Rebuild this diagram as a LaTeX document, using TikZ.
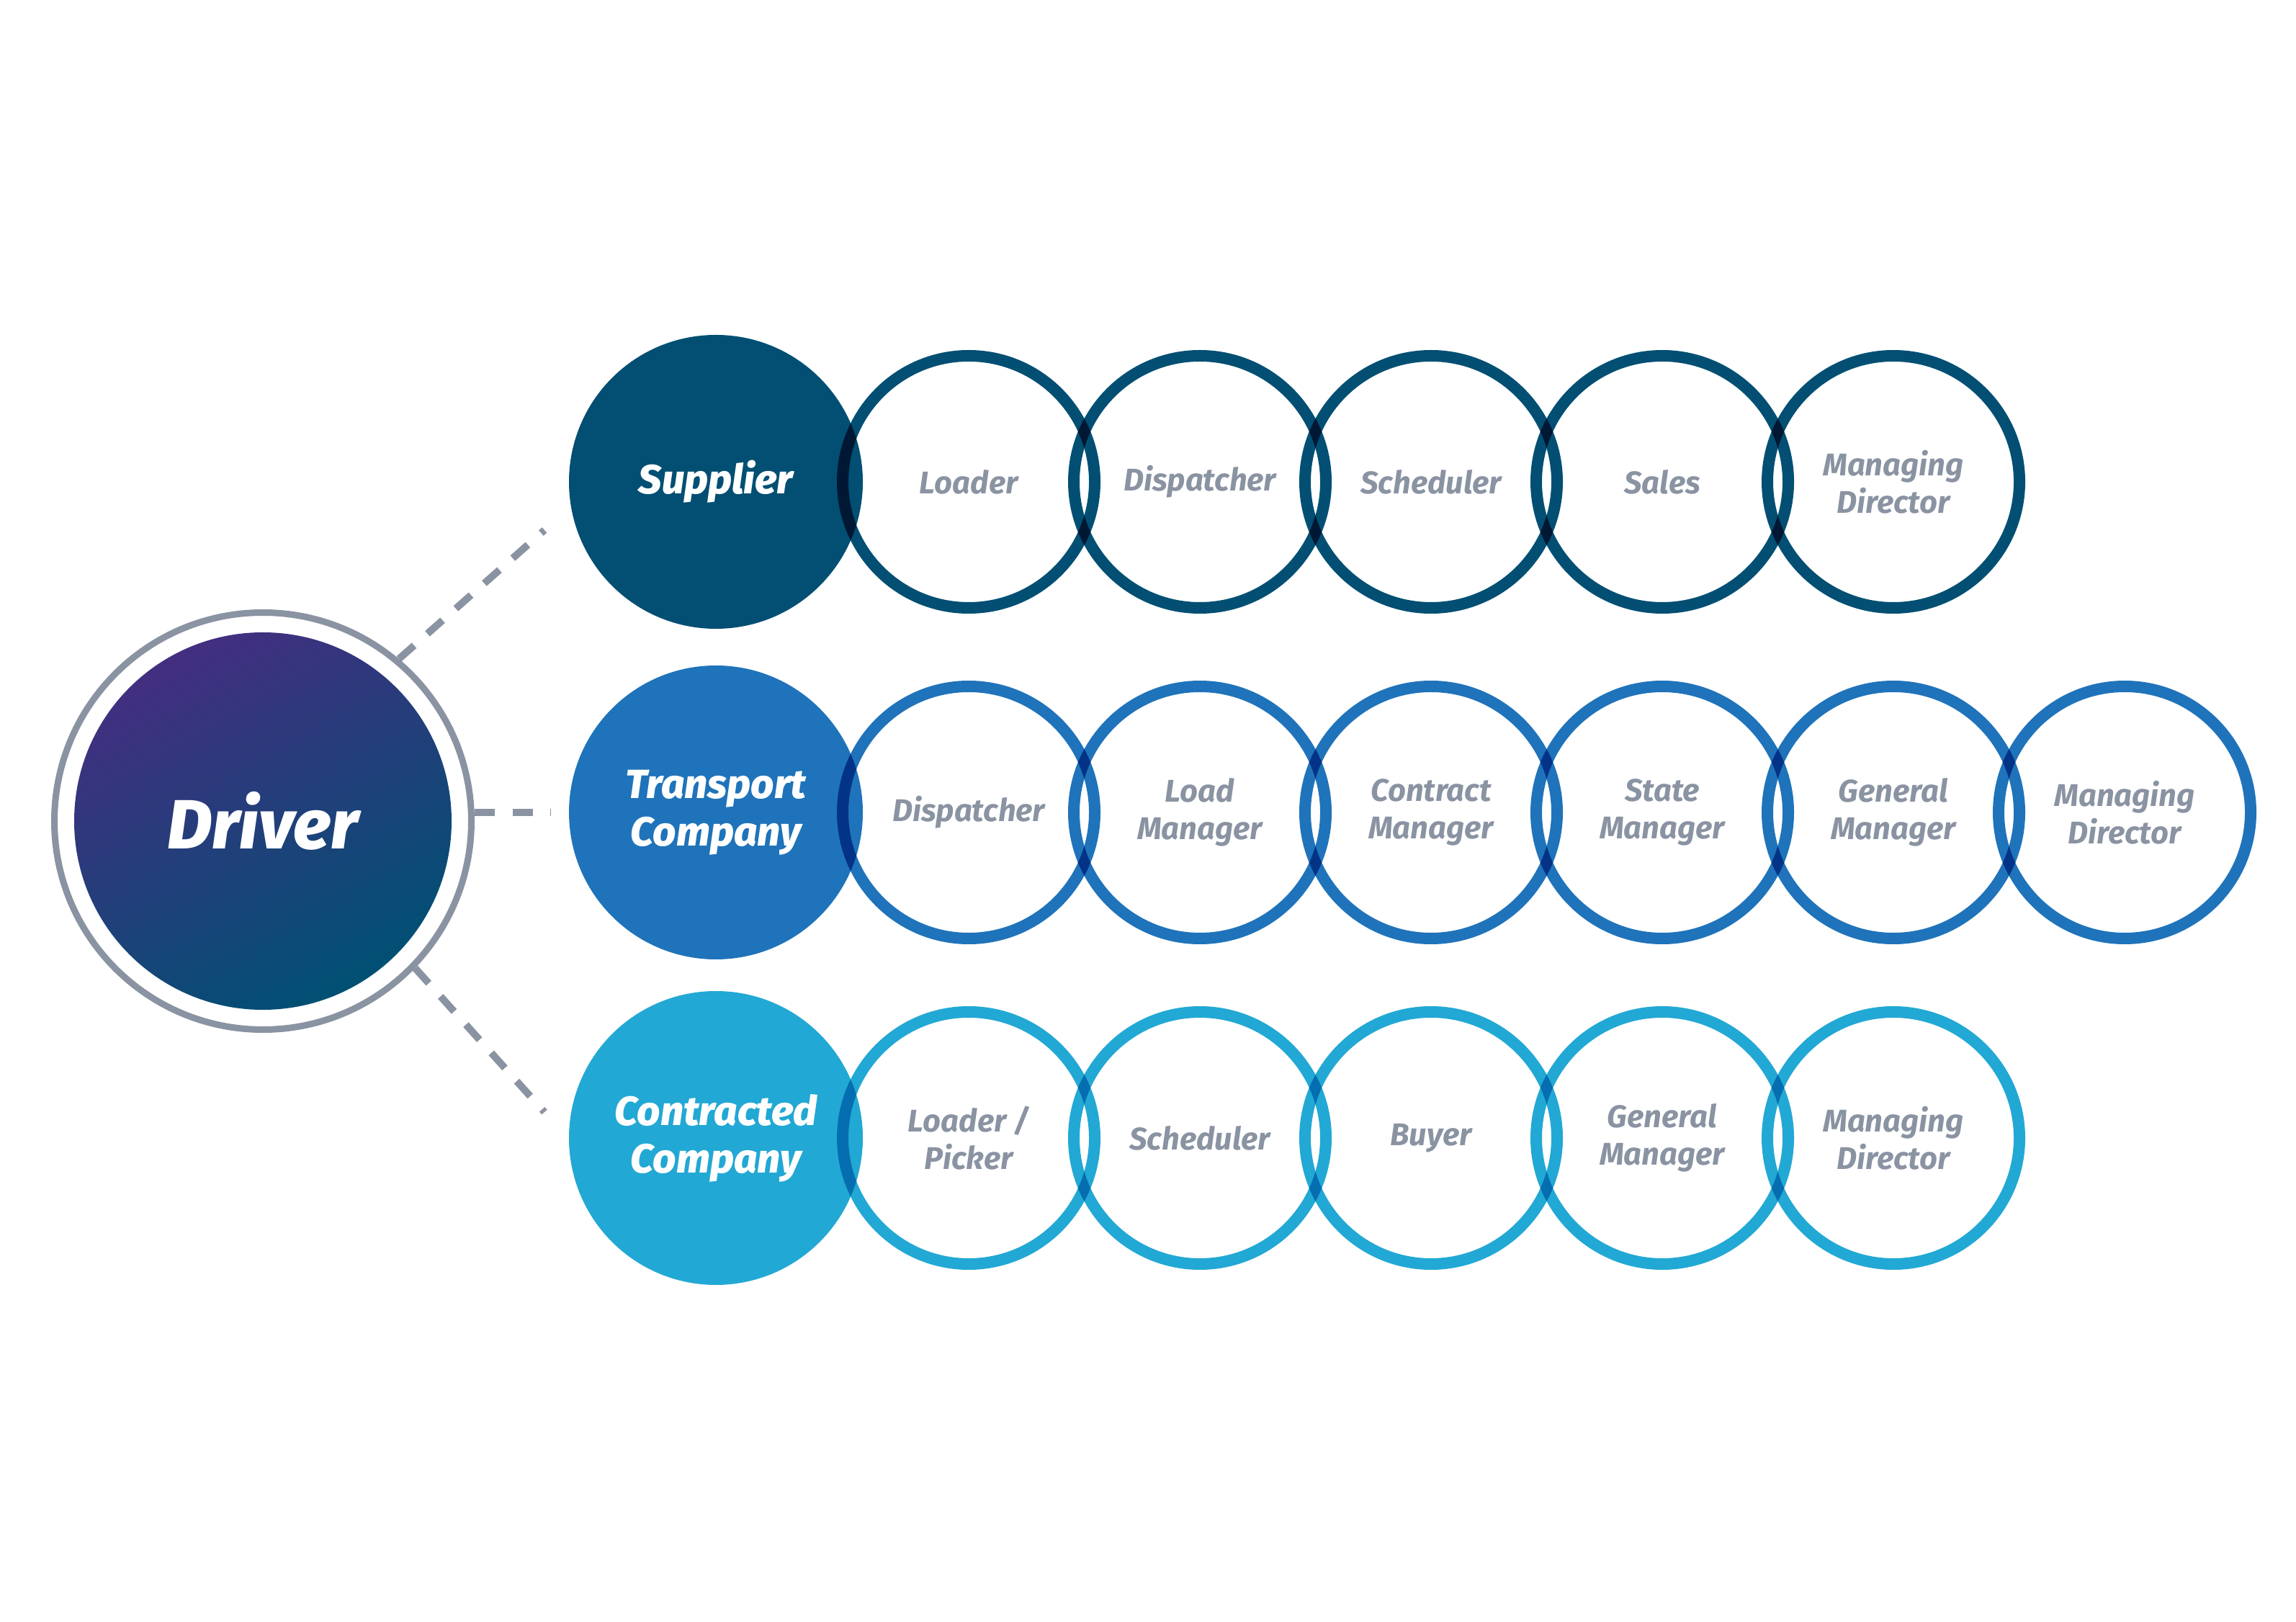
\documentclass[tikz,border=0pt]{standalone}
\usepackage{fontspec}
\setmainfont{Fira Sans}
\newfontfamily\heavyfont{Fira Sans ExtraBold Italic}
\usetikzlibrary{positioning}

\definecolor{supcol}{HTML}{024F73}
\definecolor{tracol}{HTML}{1F73BA}
\definecolor{concol}{HTML}{22A8D4}
\definecolor{labgray}{HTML}{8A93A2}
\definecolor{drvtop}{HTML}{432E80}
\definecolor{drvbot}{HTML}{005074}

\begin{document}
\begin{tikzpicture}[node distance=32.1mm,
		hubmode/.style={circle,inner sep=0pt,minimum size=40.8mm,text=white,align=center,
			font=\fontsize{16.1}{18.8}\selectfont\heavyfont},
		rolemode/.style={circle,inner sep=0pt,minimum size=35mm,line width=4.55pt,fill=none,
			blend mode=multiply,text=labgray,align=center,
			font=\fontsize{12.4}{14.8}\selectfont\bfseries\itshape},
		linkmode/.style={draw=labgray,line width=2.85pt,dash pattern=on 8pt off 7pt}]
		\useasboundingbox (0,0) rectangle (31.88,22.51);
		\fill [white] (0,0) rectangle (31.88,22.51);

		% driver
		\node (drvring) [circle,inner sep=0pt,minimum size=57.9mm,draw=labgray,line width=2.56pt] at (3.65,11.11) {};
		\node (driver) [circle,inner sep=0pt,minimum size=52.4mm,top color=drvtop,bottom color=drvbot,shading angle=30,
			text=white,font=\fontsize{27.5}{30}\selectfont\heavyfont] at (3.65,11.11) {Driver};

		% supplier
		\node (sup) [hubmode,fill=supcol] at (9.94,15.82) {Supplier};
		\node (sup1) [rolemode,draw=supcol,right of=sup,xshift=3mm] {Loader};
		\node (sup2) [rolemode,draw=supcol,right of=sup1] {Dispatcher};
		\node (sup3) [rolemode,draw=supcol,right of=sup2] {Scheduler};
		\node (sup4) [rolemode,draw=supcol,right of=sup3] {Sales};
		\node (sup5) [rolemode,draw=supcol,right of=sup4] {Managing\\Director};

		% transport company
		\node (tra) [hubmode,fill=tracol] at (9.94,11.23) {Transport\\Company};
		\node (tra1) [rolemode,draw=tracol,right of=tra,xshift=3mm] {Dispatcher};
		\node (tra2) [rolemode,draw=tracol,right of=tra1] {Load\\Manager};
		\node (tra3) [rolemode,draw=tracol,right of=tra2] {Contract\\Manager};
		\node (tra4) [rolemode,draw=tracol,right of=tra3] {State\\Manager};
		\node (tra5) [rolemode,draw=tracol,right of=tra4] {General\\Manager};
		\node (tra6) [rolemode,draw=tracol,right of=tra5] {Managing\\Director};

		% contracted company
		\node (con) [hubmode,fill=concol] at (9.94,6.71) {Contracted\\Company};
		\node (con1) [rolemode,draw=concol,right of=con,xshift=3mm] {Loader /\\Picker};
		\node (con2) [rolemode,draw=concol,right of=con1] {Scheduler};
		\node (con3) [rolemode,draw=concol,right of=con2] {Buyer};
		\node (con4) [rolemode,draw=concol,right of=con3] {General\\Manager};
		\node (con5) [rolemode,draw=concol,right of=con4] {Managing\\Director};

		% dashed links
		\coordinate (endsup) at (7.56,15.15);
		\coordinate (endtra) at (7.65,11.23);
		\coordinate (endcon) at (7.56,7.07);
		\draw [linkmode] (drvring.50)--(endsup);
		\draw [linkmode] (drvring.east |- endtra)--(endtra);
		\draw [linkmode] (drvring.-44)--(endcon);
	\end{tikzpicture}
\end{document}
